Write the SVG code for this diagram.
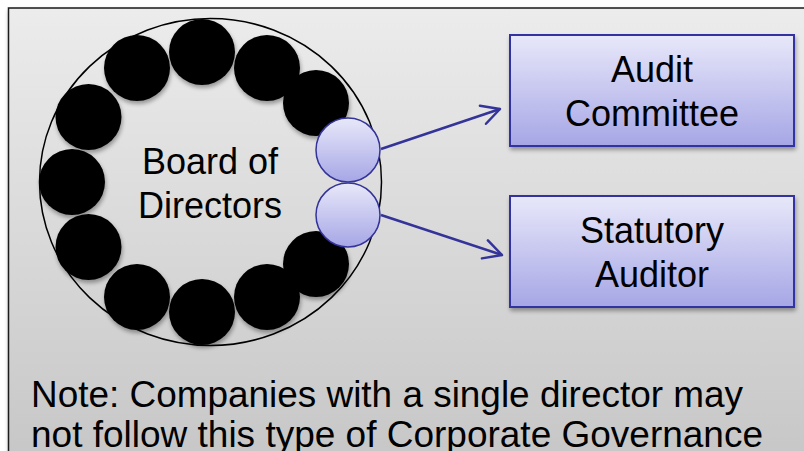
<svg xmlns="http://www.w3.org/2000/svg" width="804" height="451" viewBox="0 0 804 451">
<defs>
<linearGradient id="bg" x1="0" y1="0" x2="0" y2="1">
<stop offset="0" stop-color="#ececec"/>
<stop offset="1" stop-color="#c6c6c6"/>
</linearGradient>
<linearGradient id="blue" x1="0" y1="0" x2="0" y2="1">
<stop offset="0" stop-color="#e8e8fa"/>
<stop offset="1" stop-color="#a6a6e6"/>
</linearGradient>
<filter id="sh" x="-20%" y="-20%" width="150%" height="150%">
<feGaussianBlur in="SourceAlpha" stdDeviation="2"/>
<feOffset dx="1" dy="3" result="b"/>
<feComponentTransfer><feFuncA type="linear" slope="0.35"/></feComponentTransfer>
<feMerge><feMergeNode/><feMergeNode in="SourceGraphic"/></feMerge>
</filter>
<marker id="arr" viewBox="0 0 22 22" refX="20" refY="11" markerWidth="22" markerHeight="22" markerUnits="userSpaceOnUse" orient="auto" overflow="visible">
<path d="M2,1.5 L20,11 L2,20.5" fill="none" stroke="#333399" stroke-width="2.5" stroke-linecap="round" stroke-linejoin="round"/>
</marker>
</defs>
<style>
text{font-family:"Liberation Sans",Arial,sans-serif;fill:#000}
.t{font-size:36px;text-anchor:middle}
.note{font-size:36px}
.dir{fill:#000}
.mem{fill:url(#blue);stroke:#333399;stroke-width:1.5}
.box{fill:url(#blue);stroke:#3333a0;stroke-width:2}
.conn{fill:none;stroke:#333399;stroke-width:2.5}
</style>
<rect x="0" y="0" width="804" height="451" fill="#ffffff"/>
<rect x="8.5" y="8" width="810" height="460" fill="url(#bg)" stroke="#1a1a1a" stroke-width="1.5" filter="url(#sh)"/>
<g id="board">
<ellipse cx="210.5" cy="182" rx="171" ry="163.5" fill="none" stroke="#000" stroke-width="1.5"/>
<g filter="url(#sh)">
<circle class="dir" cx="202" cy="52" r="33"/>
<circle class="dir" cx="137" cy="68" r="33"/>
<circle class="dir" cx="267" cy="68" r="33"/>
<circle class="dir" cx="316" cy="103" r="33"/>
<circle class="dir" cx="88.5" cy="117" r="33"/>
<circle class="dir" cx="72" cy="182" r="33"/>
<circle class="dir" cx="88.5" cy="247" r="33"/>
<circle class="dir" cx="137" cy="297" r="33"/>
<circle class="dir" cx="202" cy="312" r="33"/>
<circle class="dir" cx="267" cy="297" r="33"/>
<circle class="dir" cx="316" cy="264" r="33"/>
</g>
<text class="t" x="210" y="174">Board of</text>
<text class="t" x="210" y="218">Directors</text>
</g>
<g id="member1"><circle class="mem" cx="348" cy="150" r="32"/></g>
<g id="member2"><circle class="mem" cx="348" cy="215" r="32"/></g>
<g id="connectors">
<line class="conn" x1="381" y1="149" x2="500" y2="109" marker-end="url(#arr)"/>
<line class="conn" x1="381" y1="215" x2="502" y2="255" marker-end="url(#arr)"/>
</g>
<g id="audit-committee">
<rect class="box" x="510" y="35" width="284" height="111" filter="url(#sh)"/>
<text class="t" x="652" y="82">Audit</text>
<text class="t" x="652" y="126">Committee</text>
</g>
<g id="statutory-auditor">
<rect class="box" x="510" y="196" width="284" height="111" filter="url(#sh)"/>
<text class="t" x="652" y="243">Statutory</text>
<text class="t" x="652" y="287">Auditor</text>
</g>
<g id="note">
<text class="note" x="31" y="407" textLength="712" lengthAdjust="spacingAndGlyphs">Note: Companies with a single director may</text>
<text class="note" x="31" y="447" textLength="732" lengthAdjust="spacingAndGlyphs">not follow this type of Corporate Governance</text>
</g>
</svg>
